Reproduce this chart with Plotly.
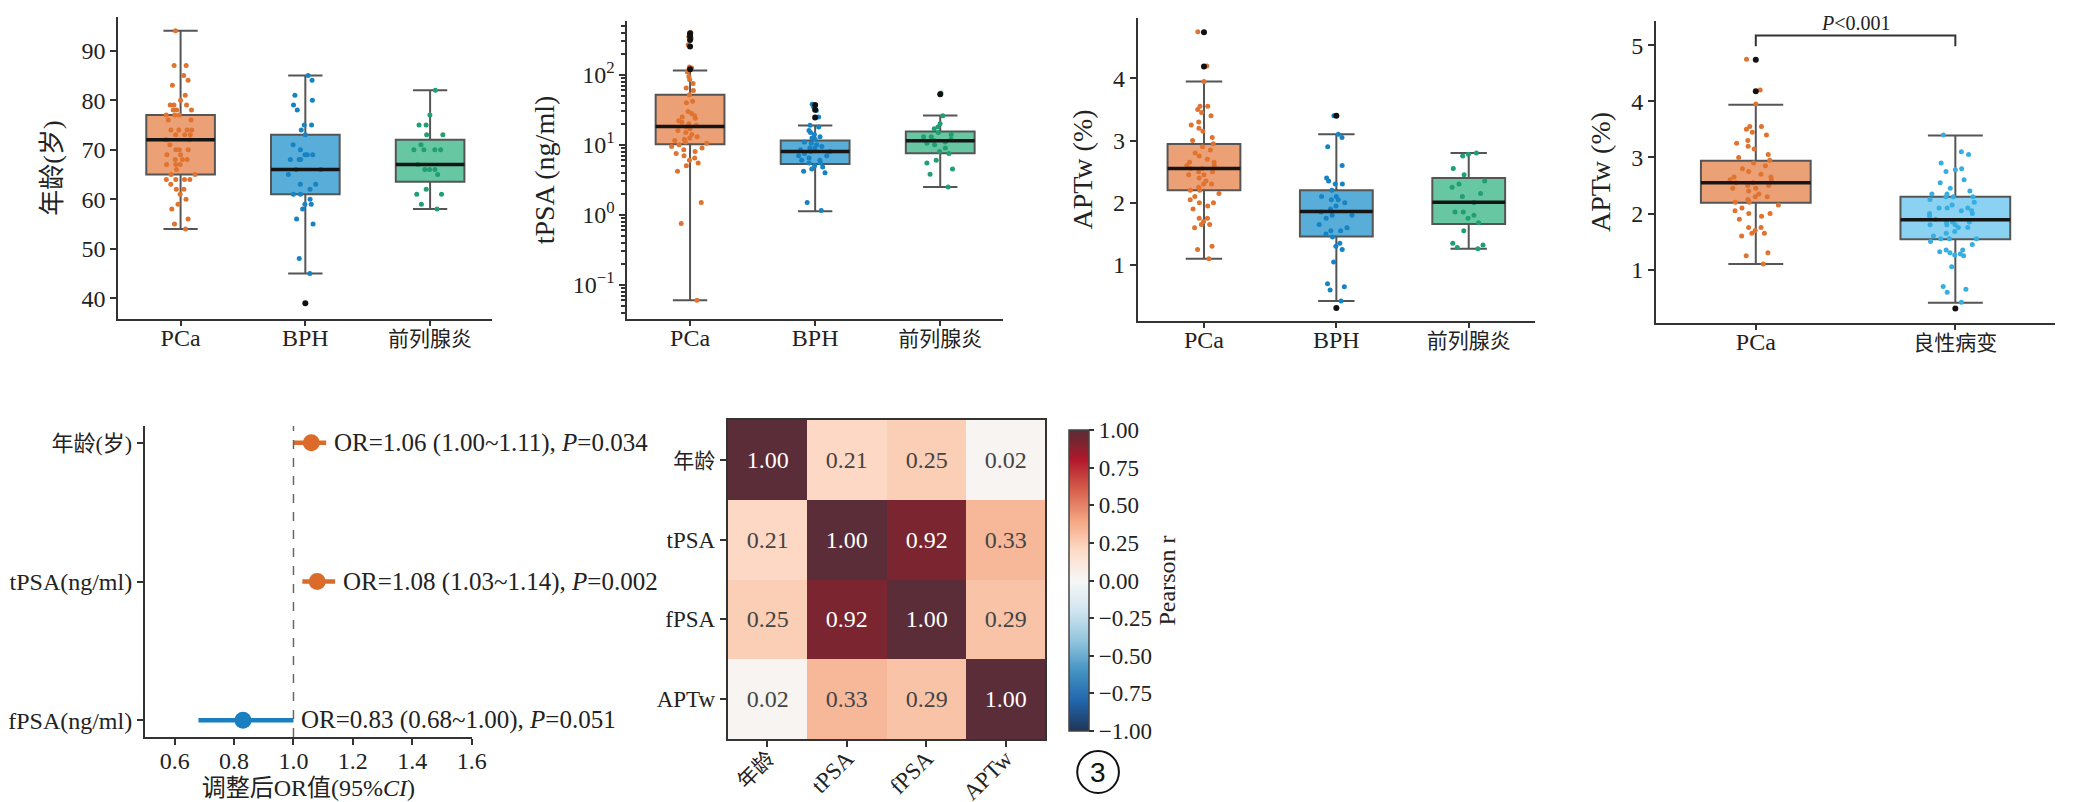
import plotly.graph_objects as go

W, H = 2079, 802
SERIF = "Liberation Serif, Noto Sans CJK SC, serif"
INK = "#222222"

groups3 = ["PCa", "BPH", "前列腺炎"]
groups2 = ["PCa", "良性病变"]

# ---- age (years) ----
age_pca = [94, 87, 87, 85, 84, 83, 81, 80, 79, 79, 79, 78, 78, 78, 77, 77, 77, 76, 76,
           74, 74, 74, 74, 73, 73, 73, 72, 72, 72, 71, 70, 70, 70, 69, 69, 68, 68, 68,
           67, 67, 67, 66, 65, 65, 64, 64, 64, 64, 63, 62, 62, 61, 60, 59, 58, 56, 55, 54]
age_bph = [85, 84, 81, 80, 79, 78, 75, 75, 74, 73, 71, 70, 69, 69, 69, 68, 68, 68, 66,
           66, 65, 63, 63, 62, 61, 61, 60, 59, 59, 58, 56, 55, 48, 45]
age_pro = [82, 77, 75, 75, 73, 73, 71, 70, 70, 70, 70, 67, 66, 66, 66, 65, 62, 61, 61, 59, 58]
age_out = [[], [39], []]
age_q1 = [65, 61, 63.5]
age_med = [72, 66, 67]
age_q3 = [77, 73, 72]
age_lo = [54, 45, 58]
age_hi = [94, 85, 82]

# ---- tPSA (ng/ml) ----
psa_pca = [400, 390, 350, 330, 270, 130, 125, 120, 110, 95, 85, 75, 65, 60, 52, 42,
           40, 30, 28, 26, 25, 24, 22, 21, 20, 19, 18, 17, 16, 15, 14, 13, 12.5, 12,
           11.5, 11, 10.5, 10, 9.5, 9, 8.5, 8, 7.5, 7, 6.5, 6, 5.5, 5, 4.2, 1.5, 0.75, 0.06]
psa_bph = [38, 35, 31, 25, 19, 18, 16, 15, 14, 13, 12.5, 12, 11, 10.5, 10, 9.5, 9, 9,
           8.5, 8, 8, 7.5, 7, 7, 6.5, 6, 6, 5.5, 5.5, 5, 4.8, 4.5, 4.2, 4, 1.5, 1.15]
psa_pro = [55, 26, 20, 18, 17, 15, 14, 13, 13, 12, 11.5, 11, 10.5, 10, 9, 8, 7.5, 6,
           5.5, 4.5, 3.8, 2.5]
psa_out = [[395, 355, 316, 255, 120], [37, 31.6, 24.5], [53]]
psa_q1 = [10.2, 5.3, 7.6]
psa_med = [18.3, 8.0, 11.4]
psa_q3 = [51.8, 11.5, 15.5]
psa_lo = [0.06, 1.12, 2.5]
psa_hi = [115, 18.9, 26.2]

# ---- APTw (%) ----
apt_pca = [4.75, 4.2, 3.95, 3.55, 3.55, 3.5, 3.45, 3.4, 3.3, 3.25, 3.2, 3.15, 3.05, 3.0,
           2.95, 2.9, 2.85, 2.8, 2.75, 2.7, 2.65, 2.65, 2.6, 2.6, 2.55, 2.55, 2.5, 2.5,
           2.45, 2.45, 2.4, 2.35, 2.3, 2.3, 2.25, 2.2, 2.2, 2.15, 2.1, 2.05, 2.0, 2.0,
           1.95, 1.9, 1.75, 1.75, 1.7, 1.65, 1.65, 1.6, 1.3, 1.25, 1.1]
apt_bph = [3.4, 3.1, 3.05, 2.9, 2.6, 2.4, 2.35, 2.3, 2.3, 2.2, 2.1, 2.1, 2.05, 2.05,
           2.0, 1.95, 1.9, 1.85, 1.8, 1.8, 1.75, 1.65, 1.6, 1.55, 1.55, 1.5, 1.45, 1.35,
           1.3, 1.25, 1.05, 0.7, 0.65, 0.6, 0.42]
apt_pro = [2.8, 2.78, 2.75, 2.55, 2.45, 2.35, 2.3, 2.25, 2.15, 2.1, 2.0, 1.85, 1.85,
           1.8, 1.75, 1.68, 1.55, 1.35, 1.32, 1.28, 1.26]
apt_out = [[4.74, 4.19], [3.4, 0.31], []]
apt_q1 = [2.2, 1.46, 1.66]
apt_med = [2.55, 1.86, 2.01]
apt_q3 = [2.945, 2.2, 2.4]
apt_lo = [1.1, 0.42, 1.26]
apt_hi = [3.95, 3.1, 2.8]

# ---- APTw, PCa vs benign ----
apt2_out = [[4.74, 4.18], [0.31]]
apt2_q1 = [2.19, 1.54]
apt2_med = [2.55, 1.89]
apt2_q3 = [2.94, 2.3]
apt2_lo = [1.1, 0.41]
apt2_hi = [3.94, 3.39]
bracket_y = [4.98, 5.17, 5.17, 4.98]
p_text_y = 5.4

# ---- forest plot ----
or_labels = ["年龄(岁)", "tPSA(ng/ml)", "fPSA(ng/ml)"]
or_value = [1.06, 1.08, 0.83]
or_low = [1.00, 1.03, 0.68]
or_high = [1.11, 1.14, 1.00]
or_p = ["0.034", "0.002", "0.051"]

# ---- correlation heatmap ----
corr_vars = ["年龄", "tPSA", "fPSA", "APTw"]
corr = [[1.00, 0.21, 0.25, 0.02],
        [0.21, 1.00, 0.92, 0.33],
        [0.25, 0.92, 1.00, 0.29],
        [0.02, 0.33, 0.29, 1.00]]

fills3 = ["rgba(228,128,72,0.75)", "rgba(32,146,204,0.75)", "rgba(52,180,132,0.75)"]
dots3 = ["#e07330", "#1683c4", "#1f9f72"]
fills2 = ["rgba(228,128,72,0.75)", "rgba(100,194,236,0.75)"]
dots2 = ["#e07330", "#35aee2"]


def dom_x(a, b):
    return [a / W, b / W]


def dom_y(top, bottom):
    return [1 - bottom / H, 1 - top / H]


def lab(s, size=21):
    # Chinese glyphs are drawn a little smaller than the Latin text
    if all(ord(c) < 128 for c in s):
        return s
    return "<span style='font-size:%dpx'>%s</span>" % (size, s)


fig = go.Figure()


def add_box(n, cat, pts, outl, q1, med, q3, lo, hi, fill, dot):
    xa, ya = "x%s" % n, "y%s" % n
    fig.add_trace(go.Box(x=[cat], q1=[q1], median=[med], q3=[q3], lowerfence=[lo],
                         upperfence=[hi], orientation="v", fillcolor=fill,
                         line=dict(color="#555555", width=2), width=0.55,
                         whiskerwidth=0.5, boxpoints=False, xaxis=xa, yaxis=ya,
                         showlegend=False))
    fig.add_trace(go.Box(x=[cat] * len(pts), y=pts, boxpoints="all", jitter=0.55,
                         pointpos=0, marker=dict(color=dot, size=5),
                         line=dict(color="rgba(0,0,0,0)", width=0),
                         fillcolor="rgba(0,0,0,0)", width=0.55, xaxis=xa, yaxis=ya,
                         showlegend=False))
    fig.add_trace(go.Box(x=[cat], q1=[med], median=[med], q3=[med], lowerfence=[med],
                         upperfence=[med], orientation="v", fillcolor="rgba(0,0,0,0)",
                         line=dict(color="#151515", width=3.5), width=0.55,
                         whiskerwidth=0, boxpoints=False, xaxis=xa, yaxis=ya,
                         showlegend=False))
    if outl:
        fig.add_trace(go.Scatter(x=[cat] * len(outl), y=outl, mode="markers",
                                 marker=dict(color="#111111", size=6),
                                 xaxis=xa, yaxis=ya, showlegend=False))


panel1 = [age_pca, age_bph, age_pro]
panel2 = [psa_pca, psa_bph, psa_pro]
panel3 = [apt_pca, apt_bph, apt_pro]
panel4 = [apt_pca, apt_bph + apt_pro]

for i, g in enumerate(groups3):
    add_box("", g, panel1[i], age_out[i], age_q1[i], age_med[i], age_q3[i], age_lo[i],
            age_hi[i], fills3[i], dots3[i])
    add_box("2", g, panel2[i], psa_out[i], psa_q1[i], psa_med[i], psa_q3[i], psa_lo[i],
            psa_hi[i], fills3[i], dots3[i])
    add_box("3", g, panel3[i], apt_out[i], apt_q1[i], apt_med[i], apt_q3[i], apt_lo[i],
            apt_hi[i], fills3[i], dots3[i])
for i, g in enumerate(groups2):
    add_box("4", g, panel4[i], apt2_out[i], apt2_q1[i], apt2_med[i], apt2_q3[i],
            apt2_lo[i], apt2_hi[i], fills2[i], dots2[i])

# significance bracket
fig.add_trace(go.Scatter(x=[groups2[0], groups2[0], groups2[1], groups2[1]], y=bracket_y,
                         mode="lines", line=dict(color="#333333", width=2),
                         xaxis="x4", yaxis="y4", showlegend=False, cliponaxis=False))

# forest plot
or_colors = ["#dc6a2a", "#dc6a2a", "#1a7fc0"]
for i, name in enumerate(or_labels):
    fig.add_trace(go.Scatter(
        x=[or_value[i]], y=[name], mode="markers",
        marker=dict(color=or_colors[i], size=17),
        error_x=dict(type="data", symmetric=False, array=[or_high[i] - or_value[i]],
                     arrayminus=[or_value[i] - or_low[i]], thickness=4.5, width=0,
                     color=or_colors[i]),
        xaxis="x5", yaxis="y5", showlegend=False, cliponaxis=False))
    fig.add_annotation(x=or_high[i], y=name, xref="x5", yref="y5", xanchor="left",
                       xshift=6, showarrow=False,
                       text="OR=%.2f (%.2f~%.2f), <i>P</i>=%s" % (or_value[i], or_low[i],
                                                                  or_high[i], or_p[i]),
                       font=dict(family=SERIF, size=25, color=INK))

# heatmap
rdbu = [[0.0, "#1f3558"], [0.1, "#2166ac"], [0.2, "#4393c3"], [0.3, "#92c5de"],
        [0.4, "#d1e5f0"], [0.5, "#f7f7f7"], [0.6, "#fddbc7"], [0.7, "#f4a582"],
        [0.8, "#d6604d"], [0.9, "#b2182b"], [0.96, "#7a2530"], [1.0, "#5a2d38"]]
fig.add_trace(go.Heatmap(
    z=corr, x=corr_vars, y=corr_vars, zmin=-1, zmax=1, colorscale=rdbu,
    texttemplate="%{z:.2f}", textfont=dict(family=SERIF, size=24),
    xaxis="x6", yaxis="y6",
    colorbar=dict(x=1059 / W, xanchor="left", y=1 - 572.5 / H, yanchor="middle",
                  len=321, lenmode="pixels", thickness=20, thicknessmode="pixels",
                  tickvals=[-1, -0.75, -0.5, -0.25, 0, 0.25, 0.5, 0.75, 1],
                  tickformat=".2f", ticks="outside", ticklen=5, tickwidth=1.5,
                  tickcolor="#333333", outlinewidth=1.5, outlinecolor="#444444",
                  tickfont=dict(family=SERIF, size=23, color=INK),
                  title=dict(text="Pearson r", side="right",
                             font=dict(family=SERIF, size=24, color=INK)))))

axis_common = dict(showline=True, linecolor="#333333", linewidth=2, ticks="outside",
                   tickcolor="#333333", tickwidth=2, showgrid=False, zeroline=False)
tick_font = dict(family=SERIF, size=24, color=INK)
title_font = dict(family=SERIF, size=28, color=INK)


def cat_axis(dom, anchor, groups):
    return dict(domain=dom, anchor=anchor, range=[-0.5, len(groups) - 0.5],
                categoryorder="array", categoryarray=groups, tickmode="array",
                tickvals=groups, ticktext=[lab(g) for g in groups], ticklen=5,
                tickfont=tick_font, ticklabelstandoff=-9, **axis_common)


layout = dict(
    width=W, height=H, margin=dict(l=0, r=0, t=0, b=0),
    paper_bgcolor="white", plot_bgcolor="white", boxmode="overlay",
    xaxis=cat_axis(dom_x(111, 488), "y", groups3),
    yaxis=dict(domain=dom_y(9, 311), anchor="x", range=[35.8, 96.8], dtick=10,
               tickfont=tick_font, ticklen=6,
               title=dict(text="年龄(岁)", font=dict(family=SERIF, size=26, color=INK),
                          standoff=12), **axis_common),
    xaxis2=cat_axis(dom_x(624, 1002), "y2", groups3),
    yaxis2=dict(domain=dom_y(13, 311), anchor="x2", type="log", range=[-1.49, 2.77],
                tickvals=[0.1, 1, 10, 100], ticklen=6,
                ticktext=["10<sup>−1</sup>", "10<sup>0</sup>", "10<sup>1</sup>",
                          "10<sup>2</sup>"],
                minor=dict(ticks="outside", ticklen=4, tickwidth=1.5, tickcolor="#333333",
                           tickvals=[m * 10.0 ** e for e in range(-2, 3)
                                     for m in range(2, 10)]),
                tickfont=tick_font,
                title=dict(text="tPSA (ng/ml)", font=title_font, standoff=10),
                **axis_common),
    xaxis3=cat_axis(dom_x(1138, 1538), "y3", groups3),
    yaxis3=dict(domain=dom_y(10, 313), anchor="x3", range=[0.1, 4.97], dtick=1,
                tickfont=tick_font, ticklen=6,
                title=dict(text="APTw (%)", font=title_font, standoff=12), **axis_common),
    xaxis4=cat_axis(dom_x(1660, 2062), "y4", groups2),
    yaxis4=dict(domain=dom_y(13, 315), anchor="x4", range=[0.05, 5.43], dtick=1,
                tickfont=tick_font, ticklen=6,
                title=dict(text="APTw (%)", font=title_font, standoff=12), **axis_common),
    xaxis5=dict(domain=dom_x(138, 467), anchor="y5", range=[0.5, 1.6], dtick=0.2,
                tickformat=".1f", tickfont=tick_font, ticklen=6, ticklabelstandoff=-5,
                title=dict(text="调整后OR值(95%<i>CI</i>)",
                           font=dict(family=SERIF, size=24, color=INK), standoff=6),
                **axis_common),
    yaxis5=dict(domain=dom_y(418, 729), anchor="x5", range=[-0.12, 2.12],
                categoryorder="array", categoryarray=or_labels[::-1], tickmode="array",
                tickvals=or_labels, ticktext=[lab(s, 22) for s in or_labels],
                tickfont=tick_font, ticklen=6, **axis_common),
    xaxis6=dict(domain=dom_x(725, 1045), anchor="y6", tickangle=-45, mirror=True,
                tickmode="array", tickvals=corr_vars, ticklen=6,
                ticktext=[lab(s, 21) for s in corr_vars], ticklabelstandoff=-11,
                tickfont=dict(family=SERIF, size=23, color=INK), **axis_common),
    yaxis6=dict(domain=dom_y(412, 731), anchor="x6", autorange="reversed", mirror=True,
                tickmode="array", tickvals=corr_vars, ticklen=6,
                ticktext=[lab(s, 21) for s in corr_vars],
                tickfont=dict(family=SERIF, size=23, color=INK), **axis_common),
)
fig.update_layout(**layout)

# reference line OR = 1
fig.add_shape(type="line", x0=1, x1=1, xref="x5", y0=0, y1=1, yref="y5 domain",
              line=dict(color="#666666", width=1.5, dash="dash"))

fig.add_annotation(x=0.5, y=p_text_y, xref="x4", yref="y4", showarrow=False,
                   text="<i>P</i>&lt;0.001", font=dict(family=SERIF, size=20, color=INK))

# panel tag
cx, cy, r = 1098, 764, 21
fig.add_shape(type="circle", xref="paper", yref="paper", x0=(cx - r) / W, x1=(cx + r) / W,
              y0=1 - (cy + r) / H, y1=1 - (cy - r) / H, line=dict(color="#111111", width=2))
fig.add_annotation(x=cx / W, y=1 - cy / H, xref="paper", yref="paper", xanchor="center",
                   yanchor="middle", showarrow=False, text="3",
                   font=dict(family="Liberation Sans", size=28, color="#111111"))

fig.write_html("out.html")
